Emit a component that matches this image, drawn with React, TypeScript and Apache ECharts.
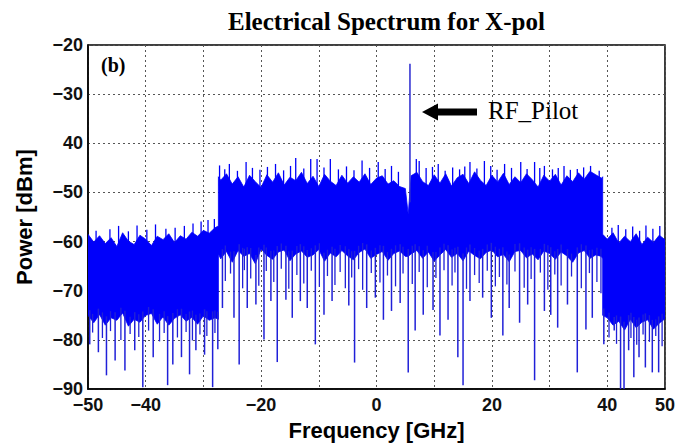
import React, { useEffect, useRef } from 'react';
import * as echarts from 'echarts';

// Frequency samples (GHz) of the dense noise band; repeated values mark the vertical steps
const coreFreq = [
  -50, -49, -48, -47, -46, -45, -44, -43, -42, -41, -40, -39, -38, -37, -36, -35, -34, -33, -32, -31, -30, -29, -28,
  -27.4, -27.4,
  -27, -26, -25, -24, -23, -22, -21, -20, -19, -18, -17, -16, -15, -14, -13, -12, -11, -10, -9, -8, -7, -6, -5, -4, -3, -2, -1, 0, 1, 2, 3, 4, 5,
  5.5,
  6, 7, 8, 9, 10, 11, 12, 13, 14, 15, 16, 17, 18, 19, 20, 21, 22, 23, 24, 25, 26, 27, 28, 29, 30, 31, 32, 33, 34, 35, 36, 37, 38, 39,
  39.2, 39.2,
  40, 41, 42, 43, 44, 45, 46, 47, 48, 49, 50,
];

// Upper edge of the dense band (dBm)
const coreTop = [
  -58.5, -60.1, -58.8, -60.4, -59.2, -61.0, -58.2, -59.9, -60.6, -58.7, -59.5, -60.8, -58.9, -59.6, -58.4, -60.2, -58.8, -59.5, -58.1, -58.9, -57.7, -58.3, -57.2,
  -56.8, -46.8,
  -47.5, -46.2, -48.3, -46.8, -48.9, -46.5, -47.8, -49.0, -46.4, -47.9, -46.0, -48.5, -46.9, -47.6, -45.9, -48.2, -46.7, -48.8, -46.3, -47.7, -48.6, -46.5, -48.1, -46.8, -47.9, -46.2, -48.4, -47.1, -46.6, -48.3, -47.6, -48.8, -49.2,
  -54.5,
  -46.6, -45.9, -47.8, -48.6, -46.4, -48.1, -46.2, -48.7, -47.0, -46.3, -48.2, -45.8, -47.5, -48.6, -46.5, -47.9, -46.1, -48.4, -46.8, -48.0, -46.2, -47.4, -48.9, -46.5, -47.7, -46.3, -48.5, -46.6, -47.8, -46.0, -47.3, -45.7, -46.4, -47.1,
  -46.8, -58.5,
  -59.5, -58.2, -60.3, -58.9, -60.0, -58.4, -60.6, -59.1, -60.2, -58.7, -59.6,
];

// Lower edge of the dense band (dBm)
const coreBottom = [
  -75, -76.5, -74.8, -77, -75.5, -76, -74.5, -77.2, -75.8, -76.4, -75, -74.6, -76.8, -75.3, -77, -75.6, -74.9, -76.2, -75.4, -76.8, -75.1, -76, -75.5,
  -75.8, -62.5,
  -63.5, -62, -64.2, -61.8, -63, -62.4, -64.5, -61.5, -62.8, -63.6, -62.1, -61.7, -63.9, -62.5, -61.9, -63.2, -62.7, -61.6, -64, -62.3, -63.1, -61.8, -62.9, -63.7, -62.2, -61.5, -63.4, -62.6, -62, -63.8, -62.4, -61.9, -63.0,
  -63,
  -62.5, -61.8, -63.4, -62.1, -64, -62.7, -61.6, -63.2, -62.4, -63.9, -61.9, -62.8, -63.5, -62.2, -61.7, -63.1, -62.6, -64.1, -62, -61.8, -63.3, -62.5, -63.7, -61.9, -62.4, -63.6, -62.1, -62.9, -64.2, -62.3, -61.8, -63.4, -62.7, -63.0,
  -63.5, -75,
  -75.5, -77, -76.2, -78, -75.8, -77.5, -76.4, -75.9, -77.8, -76.6, -75.7,
];

// Upward peaks above the band: [GHz, dBm]
const peaks = [
  [-48.6, -57.8], [-46.2, -57.5], [-44.7, -56.8], [-43, -57.9], [-41.5, -56.7], [-39.8, -57.6], [-38.3, -56.5], [-36.5, -57.4],
  [-34.9, -57.2], [-33.3, -56.8], [-31.8, -56.3], [-30.4, -55.9], [-29.2, -55.6], [-28.1, -55.4],
  [-27.2, -44.5], [-26.3, -45.3], [-25.5, -44.2], [-24.1, -45.6], [-22.6, -43.8], [-21.5, -45.0], [-20.2, -45.4], [-18.9, -44.8],
  [-17.5, -44.2], [-16.1, -45.5], [-14.9, -44.6], [-14, -43], [-12.6, -45.1], [-11.4, -43.2], [-10.3, -43.2], [-9.1, -44.9],
  [-8, -43.2], [-6.6, -45.3], [-5.2, -44.7], [-3.9, -45.5], [-2.5, -43.5], [-1.2, -45.0], [0.3, -43.8], [1.5, -45.2],
  [2.6, -44.6], [3.8, -45.8], [6.9, -43.2], [7.4, -43.6], [8.6, -45.0], [9.7, -44.8], [10.7, -44.2], [11.9, -45.6],
  [13.2, -44.9], [14.4, -45.3], [15.3, -44.7], [16.2, -43.8], [17.4, -45.1], [18.7, -43.6], [19.8, -44.6], [20.9, -45.4],
  [22.2, -44.2], [23.4, -45.0], [25, -43.8], [26.1, -45.2], [27.4, -43.8], [28.3, -45.0], [29.1, -44.6], [30.5, -45.3],
  [31.5, -45.0], [32.5, -44.6], [33.6, -45.4], [34.8, -45.2], [35.9, -44.9], [37.1, -44.6], [38.6, -45.6],
  [40.8, -57.2], [41.9, -56.6], [43.2, -57.5], [44.4, -56.9], [45.6, -57.8], [46.7, -56.7], [47.9, -57.4], [49.1, -56.8],
];

// Deep downward dips: [GHz, dBm]
const deepDips = [
  [-49.7, -80.9], [-48.2, -82.5], [-46.8, -87.2], [-45.3, -84.2], [-43.6, -86.2], [-41.9, -82.1], [-40.5, -89.6], [-38.7, -83.5],
  [-36.2, -89.2], [-35.3, -85], [-33.8, -83.5], [-32.4, -87], [-31.3, -82.1], [-29.8, -83], [-28.4, -89.6], [-27.5, -81.9],
  [-26.7, -73.5], [-24.7, -75.5], [-23.8, -85], [-22.4, -73.5], [-20.9, -72.8], [-19.5, -79.9], [-18.3, -72.1], [-17.2, -84.5],
  [-15.7, -71.8], [-14.6, -75.5], [-13.2, -72.1], [-12, -73.5], [-10.6, -80.9], [-9.1, -74.9], [-7.7, -72.1],
  [-4.8, -73], [-3.8, -84.6], [-1.7, -73.5], [-0.2, -71.4], [1.2, -75.9], [2.6, -74.1], [4.1, -72.5], [5.5, -86.6],
  [6.7, -78.1], [8.1, -74.9], [9.8, -73.9], [11, -79.1], [12.4, -75.9], [14.1, -83.5], [15, -89.2], [16.2, -72.1],
  [18.4, -71.4], [19.9, -75.5], [21.9, -79.1], [23, -73.5], [24.8, -76.5], [26.2, -72.8], [27.4, -88.2], [29.1, -74.1],
  [30.2, -74.9], [31.4, -77.5], [33.1, -72.8], [34.8, -86.6], [36.3, -77.9], [37.4, -75.5], [39.4, -80.9],
  [41.2, -78.1], [42.3, -90], [42.9, -90], [43.7, -82.1], [44.6, -87.6], [45.5, -83.5], [46.6, -85.6], [47.8, -86.6], [48.9, -86.6],
];

// Shallow downward dips: [GHz, dBm]
const shallowDips = [
  [-49.2, -78.5], [-47.5, -79.6], [-46.1, -78.2], [-44.3, -80], [-42.7, -78.8], [-41.2, -79.4], [-39.5, -78.1], [-37.6, -80.3],
  [-36.8, -78.6], [-34.5, -79.5], [-33, -78.4], [-31.9, -80.1], [-30.6, -78.9], [-29.4, -79.2], [-28, -78.6],
  [-26.2, -68], [-25.3, -66.5], [-23.2, -69.5], [-22.9, -65.8], [-21.8, -67.5], [-20.4, -69], [-19.1, -66], [-17.8, -68.2],
  [-16.5, -65.5], [-15.2, -69.6], [-13.8, -66.8], [-12.6, -68.5], [-11.3, -65.9], [-9.9, -69.2], [-8.5, -67], [-7.2, -68.8],
  [-6.3, -66.2], [-5.4, -69.5], [-4.3, -67.3], [-3.1, -65.6], [-2.4, -69.8], [-0.9, -66.4], [0.6, -68.3], [1.9, -66.9],
  [3.3, -69.1], [4.6, -66.5], [6.2, -68.6], [7.4, -66.2], [8.8, -69.3], [10.3, -67.4], [11.7, -65.8], [13.1, -68.9],
  [13.6, -66.3], [15.6, -69.6], [17.0, -66.8], [17.8, -68.4], [19.2, -65.9], [20.6, -69.1], [21.3, -67.2], [22.6, -68.7],
  [24.0, -66.1], [25.6, -69.4], [26.8, -67.6], [28.4, -66.3], [29.7, -69.8], [30.9, -66.7], [32.0, -68.9], [33.8, -67.1],
  [35.5, -69.5], [36.9, -66.4], [38.2, -68.2], [38.9, -70.5],
  [40.3, -79.5], [41.6, -80.8], [44.1, -79.6], [45.1, -81], [46.2, -78.9], [47.3, -80.4], [48.4, -79.2], [49.5, -81.3],
];

// RF pilot tone: [GHz, dBm]
const pilot = [[5.8, -23.8]];

const yTickValues = [-90, -80, -70, -60, -50, -40, -30, -20];
const yTickLabels = ['\u221290', '\u221280', '\u221270', '\u221260', '\u221250', '40', '\u221230', '\u221220'];
const xTickValues = [-50, -40, -30, -20, -10, 0, 10, 20, 30, 40, 50];
const xTickLabels = ['\u221250', '\u221240', '', '\u221220', '', '0', '', '20', '', '40', '50'];

const BLUE = '#0000fa';
const LINE_BLUE = '#2020d8';
const SERIF = '"Liberation Serif", "Times New Roman", serif';
const SANS = '"Liberation Sans", Arial, sans-serif';

function envAt(f: number, vals: number[]): number {
  for (let i = 0; i < coreFreq.length - 1; i++) {
    const a = coreFreq[i];
    const b = coreFreq[i + 1];
    if (b > a && f >= a && f <= b) {
      const t = (f - a) / (b - a);
      return vals[i] + t * (vals[i + 1] - vals[i]);
    }
  }
  return vals[vals.length - 1];
}

function lineItem(api: any, f: number, v1: number, v2: number, color: string, w: number) {
  const p1 = api.coord([f, v1]);
  const p2 = api.coord([f, v2]);
  return {
    type: 'line',
    shape: { x1: p1[0], y1: p1[1], x2: p2[0], y2: p2[1] },
    style: { stroke: color, lineWidth: w },
  };
}

export default function App() {
  const ref = useRef<HTMLDivElement>(null);
  useEffect(() => {
    document.body.style.margin = '0';
    const chart = echarts.init(ref.current!, null, { renderer: 'svg' });
    const tickFont = { fontFamily: SANS, fontWeight: 'bold', fontSize: 18, color: '#111', lineHeight: 14 };
    const option: any = {
      animation: false,
      backgroundColor: '#ffffff',
      grid: {
        left: 88, right: 10, top: 45, bottom: 54,
        show: true, borderColor: '#000', borderWidth: 1.5, backgroundColor: '#fff',
      },
      xAxis: {
        type: 'value', min: -50, max: 50, interval: 10,
        name: 'Frequency [GHz]', nameLocation: 'middle', nameGap: 28,
        nameTextStyle: { fontFamily: SANS, fontWeight: 'bold', fontSize: 22, color: '#000' },
        axisLine: { show: true, onZero: false, lineStyle: { color: '#000', width: 1.5 } },
        axisTick: { show: false },
        axisLabel: {
          margin: 9, ...tickFont, showMinLabel: true, showMaxLabel: true,
          formatter: (v: number) => {
            const i = xTickValues.indexOf(Math.round(v));
            return i >= 0 ? xTickLabels[i] : '';
          },
        },
        splitLine: { show: true, lineStyle: { color: '#555', type: [2, 3], width: 1 } },
      },
      yAxis: {
        type: 'value', min: -90, max: -20, interval: 10,
        name: 'Power [dBm]', nameLocation: 'middle', nameGap: 53,
        nameTextStyle: { fontFamily: SANS, fontWeight: 'bold', fontSize: 22, color: '#000' },
        axisLine: { show: true, onZero: false, lineStyle: { color: '#000', width: 1.5 } },
        axisTick: { show: false },
        axisLabel: {
          margin: 5, ...tickFont,
          formatter: (v: number) => {
            const i = yTickValues.indexOf(Math.round(v));
            return i >= 0 ? yTickLabels[i] : '';
          },
        },
        splitLine: { show: true, lineStyle: { color: '#555', type: [2, 3], width: 1 } },
      },
      graphic: [
        {
          type: 'text', left: 228, top: 9,
          style: { text: 'Electrical Spectrum for X-pol', font: `bold 25px ${SERIF}`, fill: '#000' },
        },
        {
          type: 'text', left: 101, top: 55, z: 10,
          style: { text: '(b)', font: `bold 20px ${SERIF}`, fill: '#000' },
        },
        {
          type: 'text', left: 488, top: 98, z: 10,
          style: { text: 'RF_Pilot', font: `25px ${SERIF}`, fill: '#000' },
        },
        {
          type: 'polygon', z: 10,
          shape: {
            points: [[422, 112], [438, 103.5], [438, 108.5], [477, 108.5], [477, 115.5], [438, 115.5], [438, 120.5]],
          },
          style: { fill: '#000' },
        },
      ],
      series: [
        {
          type: 'custom', clip: true, z: 3,
          data: coreFreq.map((f, i) => [f, coreTop[i], coreBottom[i]]),
          encode: { x: 0, y: [1, 2] },
          renderItem: (params: any, api: any) => {
            if (params.dataIndex !== 0) return null;
            const pts: number[][] = [];
            for (let i = 0; i < coreFreq.length; i++) pts.push(api.coord([coreFreq[i], coreTop[i]]));
            for (let i = coreFreq.length - 1; i >= 0; i--) pts.push(api.coord([coreFreq[i], coreBottom[i]]));
            return { type: 'polygon', shape: { points: pts }, style: { fill: BLUE, stroke: BLUE, lineWidth: 0.8 } };
          },
        },
        {
          type: 'custom', clip: true, z: 4,
          data: peaks,
          encode: { x: 0, y: 1 },
          renderItem: (params: any, api: any) =>
            lineItem(api, api.value(0), api.value(1), envAt(api.value(0), coreTop) - 1.5, BLUE, 1.3),
        },
        {
          type: 'custom', clip: true, z: 4,
          data: shallowDips,
          encode: { x: 0, y: 1 },
          renderItem: (params: any, api: any) =>
            lineItem(api, api.value(0), api.value(1), envAt(api.value(0), coreBottom) + 1.5, LINE_BLUE, 1.3),
        },
        {
          type: 'custom', clip: true, z: 4,
          data: deepDips,
          encode: { x: 0, y: 1 },
          renderItem: (params: any, api: any) =>
            lineItem(api, api.value(0), api.value(1), envAt(api.value(0), coreBottom) + 1.5, LINE_BLUE, 1.5),
        },
        {
          type: 'custom', clip: true, z: 5,
          data: pilot,
          encode: { x: 0, y: 1 },
          renderItem: (params: any, api: any) =>
            lineItem(api, api.value(0), api.value(1), -52, '#2a2ad0', 1.5),
        },
      ],
    };
    chart.setOption(option);
    return () => chart.dispose();
  }, []);
  return <div ref={ref} style={{ width: 678, height: 446 }} />;
}
